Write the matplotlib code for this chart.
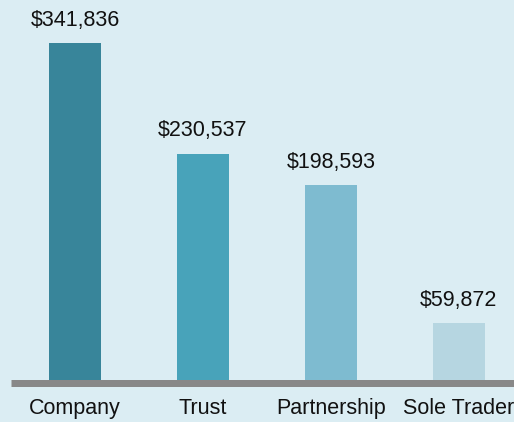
import matplotlib.pyplot as plt

categories = ["Company", "Trust", "Partnership", "Sole Trader"]
values = [341836, 230537, 198593, 59872]
colors = ["#38859a", "#48a3ba", "#7ebbd0", "#b6d6e1"]

bg = "#dbedf3"
plt.rcParams['font.family'] = ['Liberation Sans', 'DejaVu Sans']

fig = plt.figure(figsize=(5.14, 4.22), dpi=100, facecolor=bg)
ax = fig.add_axes([11 / 514, (422 - 382.5) / 422, 503 / 514, 382.5 / 422])
ax.set_facecolor(bg)

x = range(len(categories))
ax.bar(x, values, width=0.406, color=colors, zorder=1)

for i, v in enumerate(values):
    ax.annotate(f"${v:,}", (i, v), xytext=(0, 9), textcoords="offset points",
                ha="center", va="bottom", fontsize=15.5, color="#111111")

ax.set_xlim(-0.5, 3.43)
ax.set_ylim(0, 385140)
ax.set_xticks(list(x))
ax.set_xticklabels(categories, fontsize=15.5, color="#111111")
ax.tick_params(axis="x", length=0, pad=11.5)
ax.set_yticks([])
for s in ["top", "right", "left"]:
    ax.spines[s].set_visible(False)
ax.spines["bottom"].set_color("#888888")
ax.spines["bottom"].set_linewidth(5.04)
ax.spines["bottom"].set_capstyle("butt")

fig.savefig("out.png", dpi=100, facecolor=bg)
